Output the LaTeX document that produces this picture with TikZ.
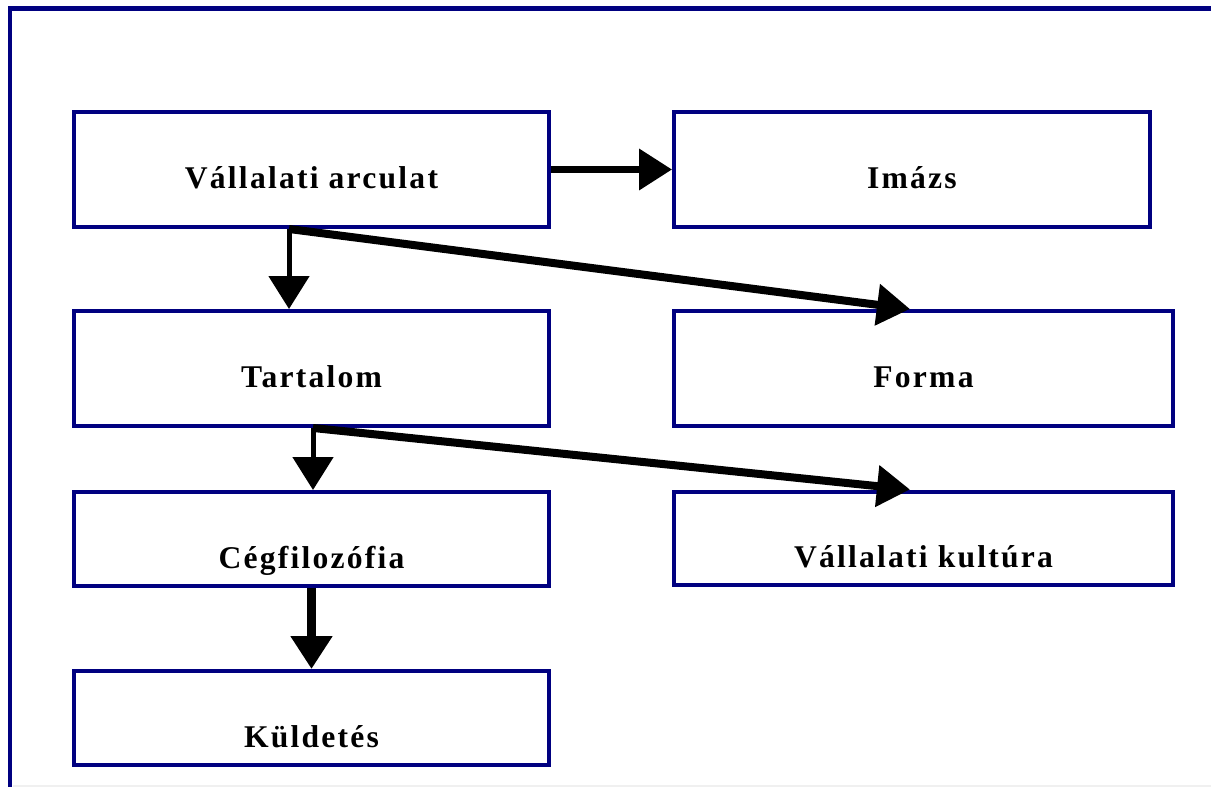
\documentclass[tikz,border=0pt]{standalone}
\usepackage{fontspec}
\setmainfont{Liberation Serif}
\newfontfamily\boxfont[LetterSpace=7]{Liberation Serif}
\usetikzlibrary{arrows.meta}
\definecolor{boxblue}{RGB}{0,0,128}

\begin{document}
\begin{tikzpicture}[
		x=0.02cm, y=-0.02cm,
		box/.style={draw=boxblue,line width=0.08cm,minimum width=9.5cm,inner sep=0pt,
			font=\boxfont\bfseries\fontsize{18}{20}\selectfont},
		tallbox/.style={box,minimum height=2.3cm,text height=0.76cm,text depth=0pt},
		shortbox/.style={box,minimum height=1.88cm,text height=1.18cm,text depth=0pt},
		widebox/.style={minimum width=9.98cm},
		flow/.style={-{Triangle[length=0.66cm,width=0.8cm]},line width=#1},
		frame/.style={draw=boxblue,line width=0.1cm},
]

\def\leftX{311.5}
\def\rightX{923.5}

\clip (0,0) rectangle (1211,787);
\useasboundingbox (0,0) rectangle (1211,787);

% outer frame, cut by the page
\draw [frame] (1240,8.5) -- (10,8.5) -- (10,800);
\draw [gray!12,line width=0.04cm] (13,785.5) -- (1211,785.5);

% boxes
\node [tallbox] (arculat) at (\leftX,169.5) {Vállalati arculat};
\node [tallbox,minimum width=9.52cm] (imazs) at (912,169.5) {Imázs};
\node [tallbox] (tartalom) at (\leftX,368.5) {Tartalom};
\node [tallbox,widebox] (forma) at (\rightX,368.5) {Forma};
\node [shortbox] (filozofia) at (\leftX,539) {Cégfilozófia};
\node [shortbox,widebox] (kultura) at (\rightX,538.5) {Vállalati kultúra};
\node [shortbox] (kuldetes) at (\leftX,718) {Küldetés};

% arrows
\draw [flow=0.14cm] (arculat.east) -- (imazs.west);

\coordinate (jA) at ([xshift=-0.45cm]arculat.south);
\draw [flow=0.1cm] (jA) -- (jA |- tartalom.north);
\draw [flow=0.16cm] (jA) -- ([xshift=-0.27cm]forma.north);

\coordinate (jB) at ([xshift=0.03cm]tartalom.south);
\draw [flow=0.1cm] (jB) -- (jB |- filozofia.north);
\draw [flow=0.16cm] (jB) -- ([xshift=-0.27cm]kultura.north);

\draw [flow=0.18cm] (filozofia.south) -- (kuldetes.north);

\end{tikzpicture}
\end{document}
